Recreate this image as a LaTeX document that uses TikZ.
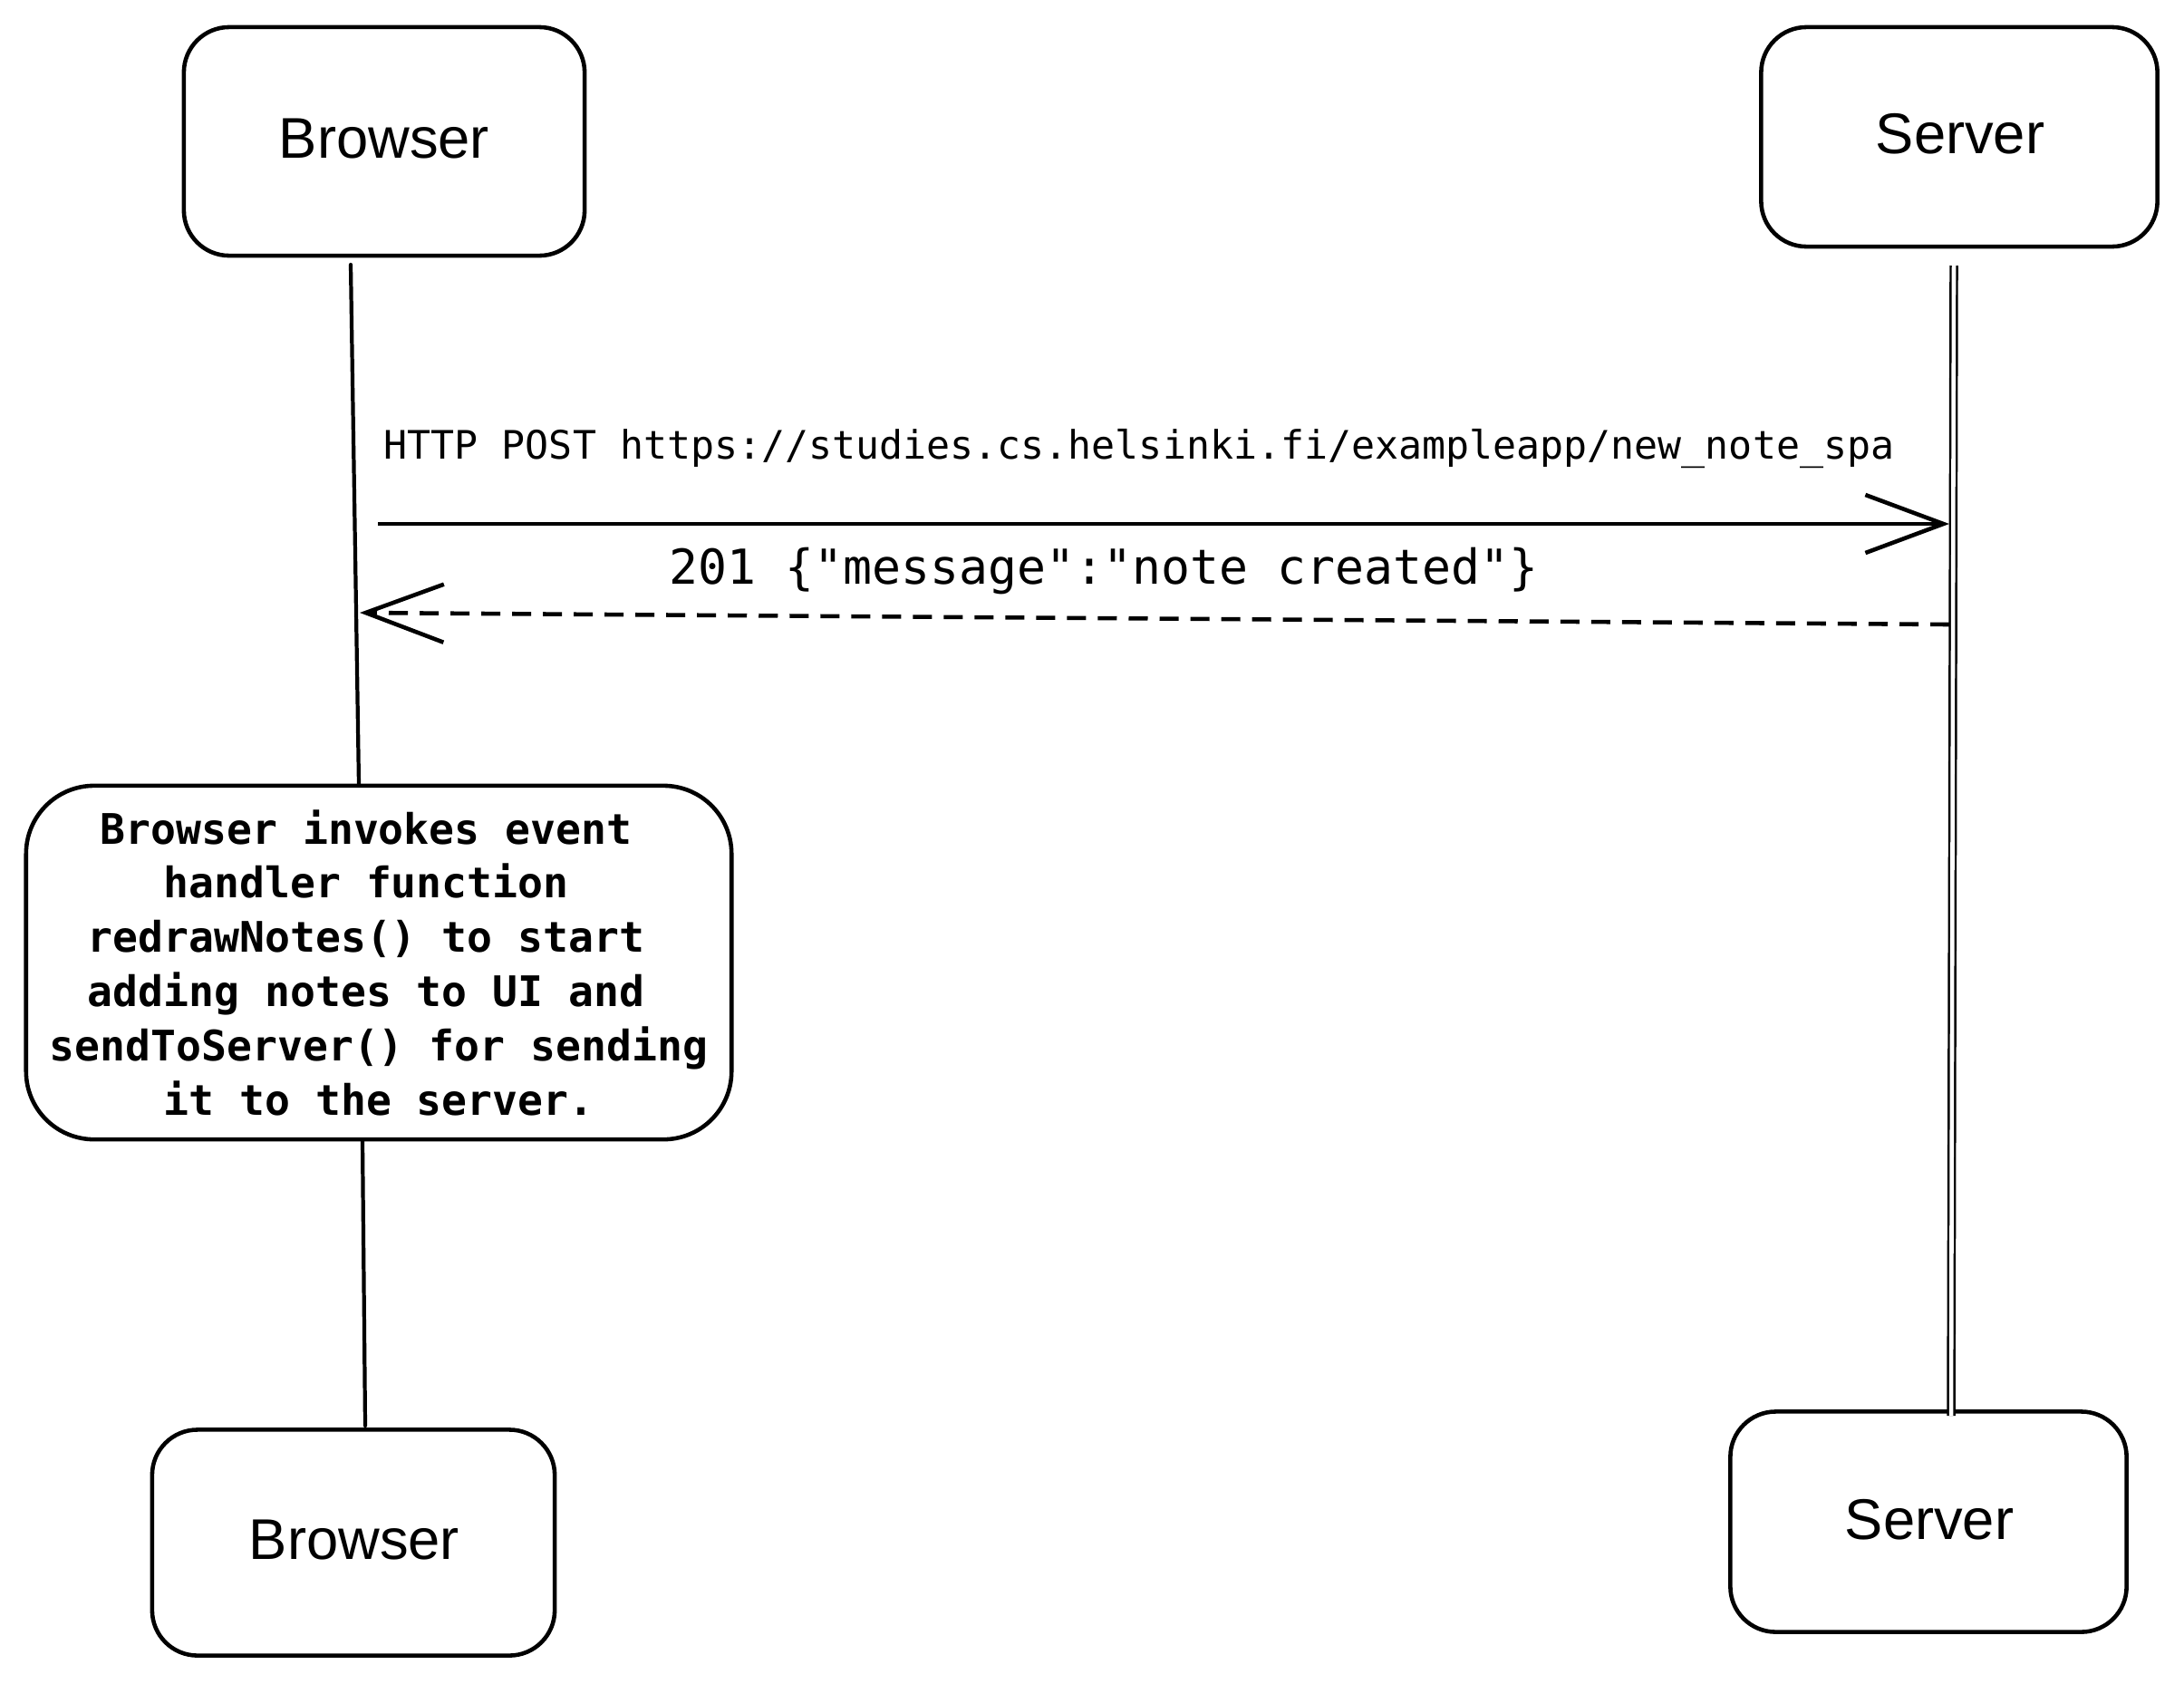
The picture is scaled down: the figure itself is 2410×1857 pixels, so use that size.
\documentclass[tikz,border=0pt]{standalone}
\usepackage{fontspec}
\setmainfont{Liberation Sans}
\newfontfamily\codefont{DejaVu Sans Mono}
\usetikzlibrary{arrows.meta}
\newcommand{\tsp}{\hphantom{x}}
\begin{document}
\begin{tikzpicture}[x=0.01cm,y=-0.01cm,
  actor/.style={draw, line width=1.3pt, rounded corners=0.5cm, inner sep=0pt},
  actorlbl/.style={inner sep=0pt, font=\fontsize{18}{22}\selectfont},
  notebox/.style={draw, line width=1.3pt, rounded corners=0.75cm, inner sep=0pt,
    minimum width=7.78cm, minimum height=3.9cm, align=center,
    font=\codefont\bfseries\fontsize{13.2}{17}\selectfont},
  life/.style={line width=1.2pt, line cap=round},
  lifedouble/.style={double, double distance=1.3pt, line width=0.7pt},
  msg/.style={line width=1.3pt, -{Straight Barb[length=0.86cm, width=0.64cm, line width=1.3pt]}},
  reply/.style={msg, dash pattern=on 0.21cm off 0.13cm},
  lbl/.style={inner sep=0pt, font=\codefont},
]
\useasboundingbox (0,0) rectangle (2410,1857);
\fill[white] (0,0) rectangle (2410,1857);

% actors
\node[actor, minimum width=4.42cm, minimum height=2.52cm] (bt) at (424,156) {};
\node[actorlbl] (btl) at (424,153) {Browser};
\node[actor, minimum width=4.37cm, minimum height=2.42cm] (st) at (2162,151) {};
\node[actorlbl] (stl) at (2163,148) {Server};
\node[actor, minimum width=4.44cm, minimum height=2.49cm] (bb) at (390,1702) {};
\node[actorlbl] (bbl) at (391,1699) {Browser};
\node[actor, minimum width=4.37cm, minimum height=2.43cm] (sb) at (2128,1679) {};
\node[actorlbl] (sbl) at (2129,1677) {Server};

% note
\node[notebox] (note) at (418,1062) {Browser invokes event\tsp\\handler function\tsp\\redrawNotes() to start\tsp\\adding notes to UI and\tsp\\sendToServer() for sending\\it to the server.};

% lifeline coordinates
\coordinate (b1) at (387,292);
\coordinate (b2) at (396,866);
\coordinate (b3) at (400,1258);
\coordinate (b4) at (403,1573);
\coordinate (s1) at (2156,293);
\coordinate (s2) at (2153,1562);

\draw[life] (b1) -- (b2);
\draw[life] (b3) -- (b4);
\draw[lifedouble] (s1) -- (s2);

% messages
\coordinate (p1) at (417,578);
\coordinate (p2) at (2151,578);
\coordinate (r1) at (2151,689);
\coordinate (r2) at (397,676);
\draw[msg] (p1) -- (p2);
\draw[reply] (r1) -- (r2);

\node[lbl, anchor=west, font=\codefont\fontsize{12.3}{14}\selectfont] (postlbl) at (423,495) {HTTP POST https://studies.cs.helsinki.fi/exampleapp/new\_note\_spa};
\node[lbl, font=\codefont\fontsize{15.1}{18}\selectfont] (replbl) at (1218,630) {201 \{"message":"note created"\}};
\end{tikzpicture}
\end{document}
